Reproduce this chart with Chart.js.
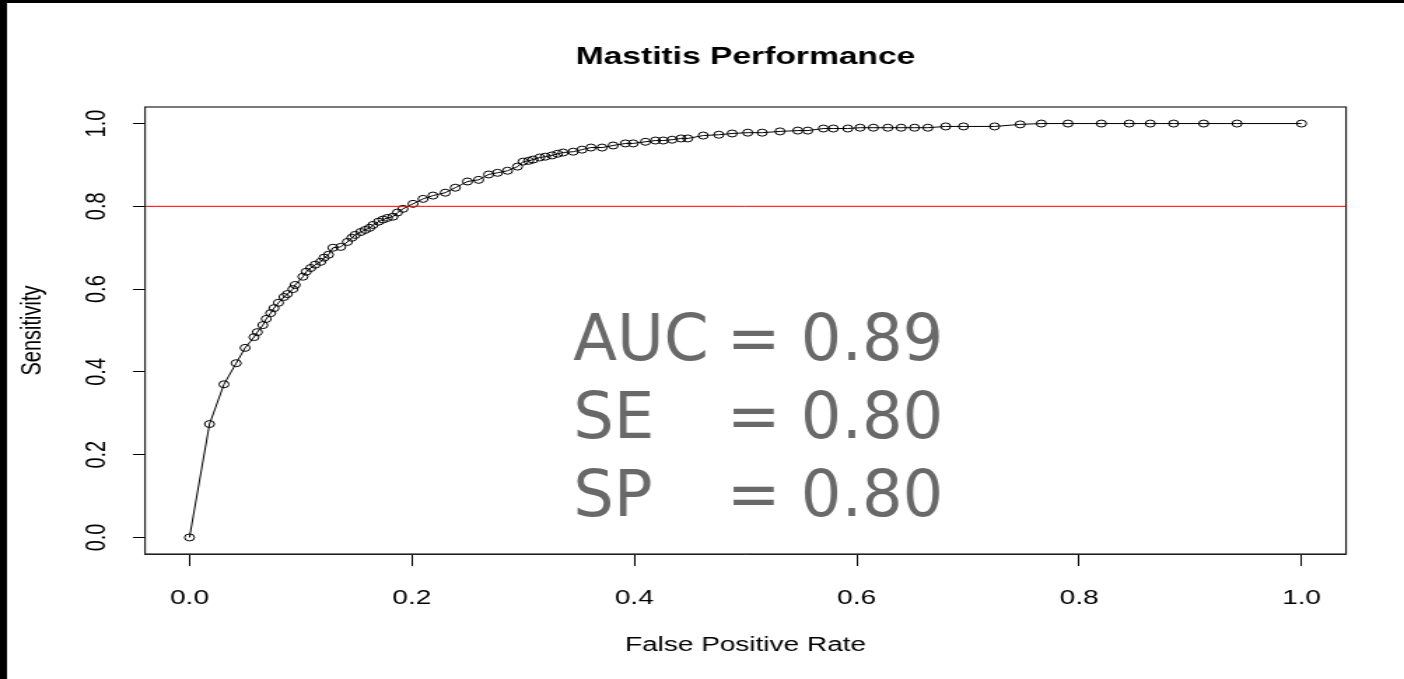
<!DOCTYPE html>
<html>
<head>
<meta charset="utf-8">
<script src="https://cdn.jsdelivr.net/npm/chart.js@4/dist/chart.umd.min.js"></script>
<style>
body { margin: 0; background: #fff; overflow: hidden; }
</style>
</head>
<body>
<canvas id="roc" width="1003" height="679" style="display:block;width:1404px;height:679px"></canvas>
<script>
// ROC points
var fpr = [0, 0.018, 0.031, 0.042, 0.050, 0.058, 0.061, 0.066, 0.069, 0.073,
	0.076, 0.080, 0.085, 0.088, 0.093, 0.095, 0.102, 0.105, 0.109, 0.113,
	0.118, 0.121, 0.125, 0.129, 0.136, 0.142, 0.146, 0.149, 0.154, 0.158,
	0.162, 0.165, 0.170, 0.174, 0.178, 0.183, 0.187, 0.192, 0.201, 0.210,
	0.219, 0.230, 0.239, 0.250, 0.260, 0.269, 0.277, 0.286, 0.295, 0.300,
	0.305, 0.309, 0.315, 0.320, 0.326, 0.331, 0.336, 0.345, 0.353, 0.361,
	0.371, 0.381, 0.392, 0.399, 0.410, 0.419, 0.426, 0.434, 0.442, 0.448,
	0.462, 0.476, 0.488, 0.502, 0.515, 0.531, 0.547, 0.556, 0.570, 0.579,
	0.592, 0.603, 0.615, 0.628, 0.640, 0.652, 0.664, 0.680, 0.696, 0.724,
	0.747, 0.766, 0.790, 0.820, 0.845, 0.864, 0.885, 0.912, 0.942, 1.0];
var sens = [0, 0.274, 0.370, 0.421, 0.458, 0.484, 0.496, 0.513, 0.528, 0.542,
	0.554, 0.567, 0.581, 0.588, 0.600, 0.610, 0.630, 0.642, 0.651, 0.659,
	0.666, 0.676, 0.683, 0.700, 0.702, 0.714, 0.724, 0.731, 0.738, 0.743,
	0.748, 0.755, 0.763, 0.768, 0.772, 0.775, 0.785, 0.794, 0.806, 0.818,
	0.826, 0.833, 0.845, 0.860, 0.864, 0.877, 0.881, 0.886, 0.896, 0.908,
	0.910, 0.913, 0.918, 0.920, 0.923, 0.927, 0.930, 0.932, 0.937, 0.942,
	0.942, 0.947, 0.952, 0.952, 0.956, 0.959, 0.959, 0.961, 0.964, 0.964,
	0.971, 0.973, 0.976, 0.978, 0.978, 0.981, 0.983, 0.983, 0.988, 0.988,
	0.988, 0.990, 0.990, 0.990, 0.990, 0.990, 0.990, 0.993, 0.993, 0.993,
	0.998, 1, 1, 1, 1, 1, 1, 1, 1, 1];
var xTicks = [0, 0.2, 0.4, 0.6, 0.8, 1.0];
var yTicks = [0, 0.2, 0.4, 0.6, 0.8, 1.0];
var cutoff = 0.8;
var statNames = ['AUC', 'SE', 'SP'];
var statValues = ['0.89', '0.80', '0.80'];

// R pads the axis range by 4% on each side
var axMin = -0.04;
var axMax = 1.04;
// the source image is stretched sideways, so the canvas is drawn narrow and widened by css
var S = 1404 / 1003;
var FONT = "'Liberation Sans', Arial, sans-serif";

var points = [];
for (var i = 0; i < fpr.length; i++) {
	points.push({ x: fpr[i], y: sens[i] });
}

var rStyle = {
	id: 'rStyle',
	beforeDraw: function (chart) {
		var ctx = chart.ctx;
		ctx.save();
		ctx.fillStyle = '#fff';
		ctx.fillRect(0, 0, chart.width, chart.height);
		ctx.fillStyle = '#000';
		ctx.fillRect(0, 0, chart.width, 3);
		ctx.fillRect(0, 0, 7 / S, chart.height);
		ctx.restore();
	},
	afterDraw: function (chart) {
		var ctx = chart.ctx;
		var a = chart.chartArea;
		ctx.save();
		ctx.strokeStyle = '#222';
		ctx.lineWidth = 1.2;
		ctx.strokeRect(a.left, a.top, a.right - a.left, a.bottom - a.top);

		// annotation, not stretched
		var xs = chart.scales.x;
		var tx = xs.getPixelForValue(0.345) * S;
		ctx.scale(1 / S, 1);
		ctx.fillStyle = '#696969';
		ctx.font = "64px 'DejaVu Sans', sans-serif";
		ctx.textBaseline = 'alphabetic';
		ctx.textAlign = 'left';
		var eqX = tx + ctx.measureText(statNames[0] + ' ').width - 2;
		for (var k = 0; k < statNames.length; k++) {
			var ty = 360 + k * 78;
			ctx.fillText(statNames[k], tx, ty);
			ctx.fillText('= ' + statValues[k], eqX, ty);
		}
		ctx.restore();
	}
};

var ctx = document.getElementById('roc').getContext('2d');
window.RocChart = new Chart(ctx, {
	type: 'line',
	data: {
		datasets: [{
			label: 'cutoff',
			data: [{ x: axMin, y: cutoff }, { x: axMax, y: cutoff }],
			borderColor: '#ff0000',
			borderWidth: 1,
			pointRadius: 0
		}, {
			label: 'ROC',
			data: points,
			borderColor: '#000',
			borderWidth: 1,
			pointRadius: 3.5,
			pointBorderWidth: 1,
			pointBorderColor: '#000',
			pointBackgroundColor: 'rgba(0,0,0,0)'
		}]
	},
	options: {
		responsive: false,
		devicePixelRatio: 1,
		animation: false,
		events: [],
		layout: {
			padding: { left: 0, right: 1003 - 1346 / S, top: 0, bottom: 0 }
		},
		plugins: {
			legend: { display: false },
			tooltip: { enabled: false },
			title: {
				display: true,
				fullSize: false,
				text: 'Mastitis Performance',
				color: '#000',
				font: { family: FONT, size: 24, weight: 'bold', lineHeight: 1.2 },
				padding: { top: 43, bottom: 35.2 }
			}
		},
		scales: {
			x: {
				type: 'linear',
				min: axMin,
				max: axMax,
				afterBuildTicks: function (s) {
					s.ticks = xTicks.map(function (v) { return { value: v }; });
				},
				afterFit: function (s) { s.height = 679 - 554; },
				ticks: {
					color: '#000',
					padding: 20,
					maxRotation: 0,
					font: { family: FONT, size: 20, lineHeight: 1.2 },
					callback: function (v) { return v.toFixed(1); }
				},
				grid: { drawOnChartArea: false, drawTicks: true, tickLength: 12, color: '#000', lineWidth: 1 },
				border: { display: true, color: '#222', width: 1 },
				title: {
					display: true,
					text: 'False Positive Rate',
					color: '#000',
					font: { family: FONT, size: 20, lineHeight: 1.2 },
					padding: { top: 0, bottom: 22 }
				}
			},
			y: {
				type: 'linear',
				min: axMin,
				max: axMax,
				afterBuildTicks: function (s) {
					s.ticks = yTicks.map(function (v) { return { value: v }; });
				},
				afterFit: function (s) { s.width = 145 / S; },
				ticks: {
					color: '#000',
					padding: 11.7,
					minRotation: 90,
					maxRotation: 90,
					crossAlign: 'center',
					font: { family: FONT, size: 20, lineHeight: 1.2 },
					callback: function (v) { return v.toFixed(1); }
				},
				grid: { drawOnChartArea: false, drawTicks: true, tickLength: 12 / S, color: '#000', lineWidth: 1 },
				border: { display: true, color: '#222', width: 1 },
				title: {
					display: true,
					text: 'Sensitivity',
					color: '#000',
					font: { family: FONT, size: 20, lineHeight: 1.2 },
					padding: { top: 11.6, bottom: 0 }
				}
			}
		}
	},
	plugins: [rStyle]
});
</script>
</body>
</html>
